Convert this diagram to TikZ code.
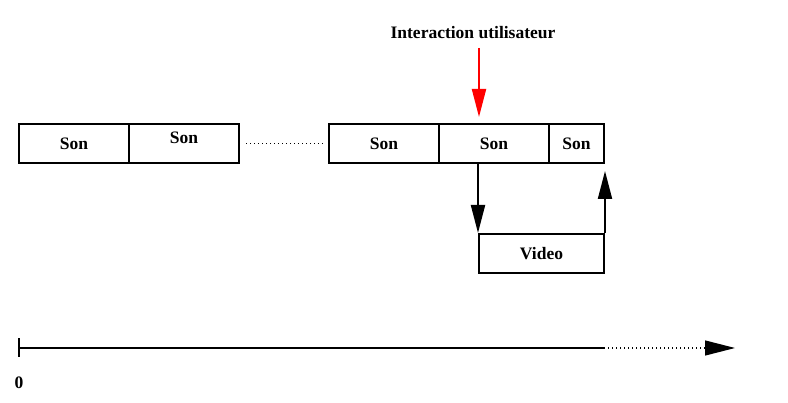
\documentclass[tikz,border=0pt]{standalone}
\usepackage{fontspec}
\setmainfont{Liberation Serif}
\usetikzlibrary{arrows.meta}
\begin{document}
\begin{tikzpicture}[x=1pt,y=-1pt,
  lbl/.style={font=\bfseries\fontsize{17.5}{20}\selectfont},
  cell/.style={draw,line width=2pt,minimum height=39pt,inner sep=0pt,lbl},
  bigtip/.style={-{Triangle[length=28pt,width=14pt]}},
  link/.style={line width=2pt,bigtip},
  dots/.style={line width=1.2pt,dash pattern=on 1.2pt off 2.8pt}]
\useasboundingbox (0,0) rectangle (788,403);
\node[cell,minimum width=110pt] (b1) at (74,143.5) {Son};
\node[cell,minimum width=110pt,text depth=12pt] (b2) at (184,143.5) {Son};
\node[cell,minimum width=110pt] (b3) at (384,143.5) {Son};
\node[cell,minimum width=110pt] (b4) at (494,143.5) {Son};
\node[cell,minimum width=55pt] (b5) at (576.5,143.5) {Son};
\node[cell,minimum width=125pt] (vid) at (541.5,253.5) {Video};
\node[lbl] (ui) at (473,33) {Interaction utilisateur};
\draw[dots,shorten <=6pt,shorten >=4pt] (b2.east) -- (b3.west);
\coordinate (rtop) at (479,48);
\draw[link,red,shorten >=6pt] (rtop) -- (rtop |- b4.north);
\draw[link] (vid.north west |- b4.south) -- (vid.north west);
\draw[link,shorten >=7pt] (vid.north east) -- (b5.south east);
\coordinate (t0) at (19,348);
\coordinate (t1) at (604,348);
\coordinate (t2) at (735,348);
\draw[line width=2pt] (t0) -- (t1);
\draw[dots,-{Triangle[length=30pt,width=15pt]}] (t1) -- (t2);
\draw[line width=2pt] (t0) ++(0,-9.5) -- ++(0,19);
\node[lbl] (zero) at (19,383) {0};
\end{tikzpicture}
\end{document}
